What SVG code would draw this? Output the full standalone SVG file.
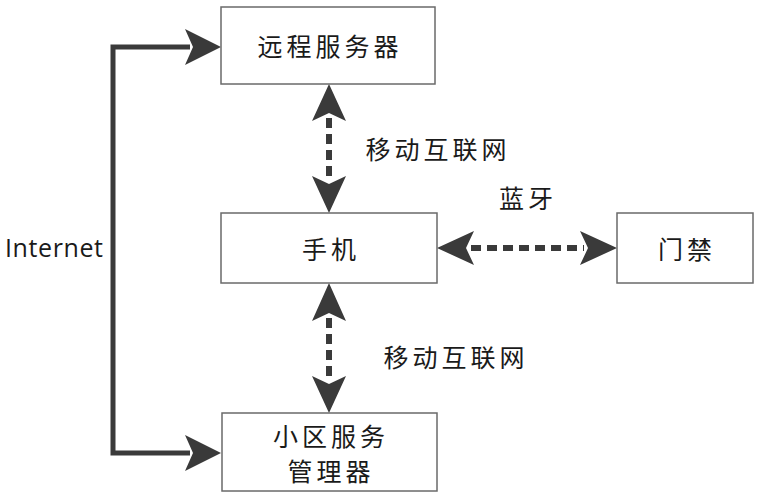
<svg xmlns="http://www.w3.org/2000/svg" width="762" height="500" viewBox="0 0 762 500">
<style>
.box{fill:#fff;stroke:#6a6a6a;stroke-width:1.5}
.t{font-family:"Noto Sans CJK SC","Liberation Sans",sans-serif;font-size:25px;fill:#1a1a1a;text-anchor:middle;dominant-baseline:central;letter-spacing:4px}
.solid{fill:none;stroke:#3a3a3a;stroke-width:5}
.dash{fill:none;stroke:#3a3a3a;stroke-width:6;stroke-dasharray:10 6}
.ah{fill:#3a3a3a}
</style>
<rect width="762" height="500" fill="#fff"/>
<g id="connectors">
<path class="solid" d="M190,47 H113 V453 H190"/>
<polygon class="ah" points="221,47 185,29 193,47 185,65"/>
<polygon class="ah" points="221,453 185,435 193,453 185,471"/>
<line class="dash" x1="329" y1="118" x2="329" y2="180"/>
<polygon class="ah" points="329,84 312,121 329,113 346,121"/>
<polygon class="ah" points="329,213 312,176 329,184 346,176"/>
<line class="dash" x1="329" y1="318" x2="329" y2="380"/>
<polygon class="ah" points="329,283 312,321 329,313 346,321"/>
<polygon class="ah" points="329,413 312,376 329,384 346,376"/>
<line class="dash" x1="471" y1="248" x2="584" y2="248"/>
<polygon class="ah" points="437,248 474,231 466,248 474,265"/>
<polygon class="ah" points="617,248 580,231 588,248 580,265"/>
<text class="t" x="438" y="148">移动互联网</text>
<text class="t" x="456" y="356">移动互联网</text>
<text class="t" x="528" y="197">蓝牙</text>
<text x="5" y="257" style="font-family:'Open Sans','Liberation Sans',sans-serif;font-size:25px;letter-spacing:0.6px;fill:#1a1a1a">Internet</text>
</g>
<g id="remote">
<rect class="box" x="221" y="7" width="214" height="77"/>
<text class="t" x="330" y="45">远程服务器</text>
</g>
<g id="phone">
<rect class="box" x="221" y="213" width="216" height="70"/>
<text class="t" x="331" y="248">手机</text>
</g>
<g id="door">
<rect class="box" x="617" y="213" width="136" height="70"/>
<text class="t" x="687" y="248">门禁</text>
</g>
<g id="community">
<rect class="box" x="222" y="413" width="215" height="78"/>
<text class="t" x="331" y="435">小区服务</text>
<text class="t" x="331" y="470">管理器</text>
</g>
</svg>
